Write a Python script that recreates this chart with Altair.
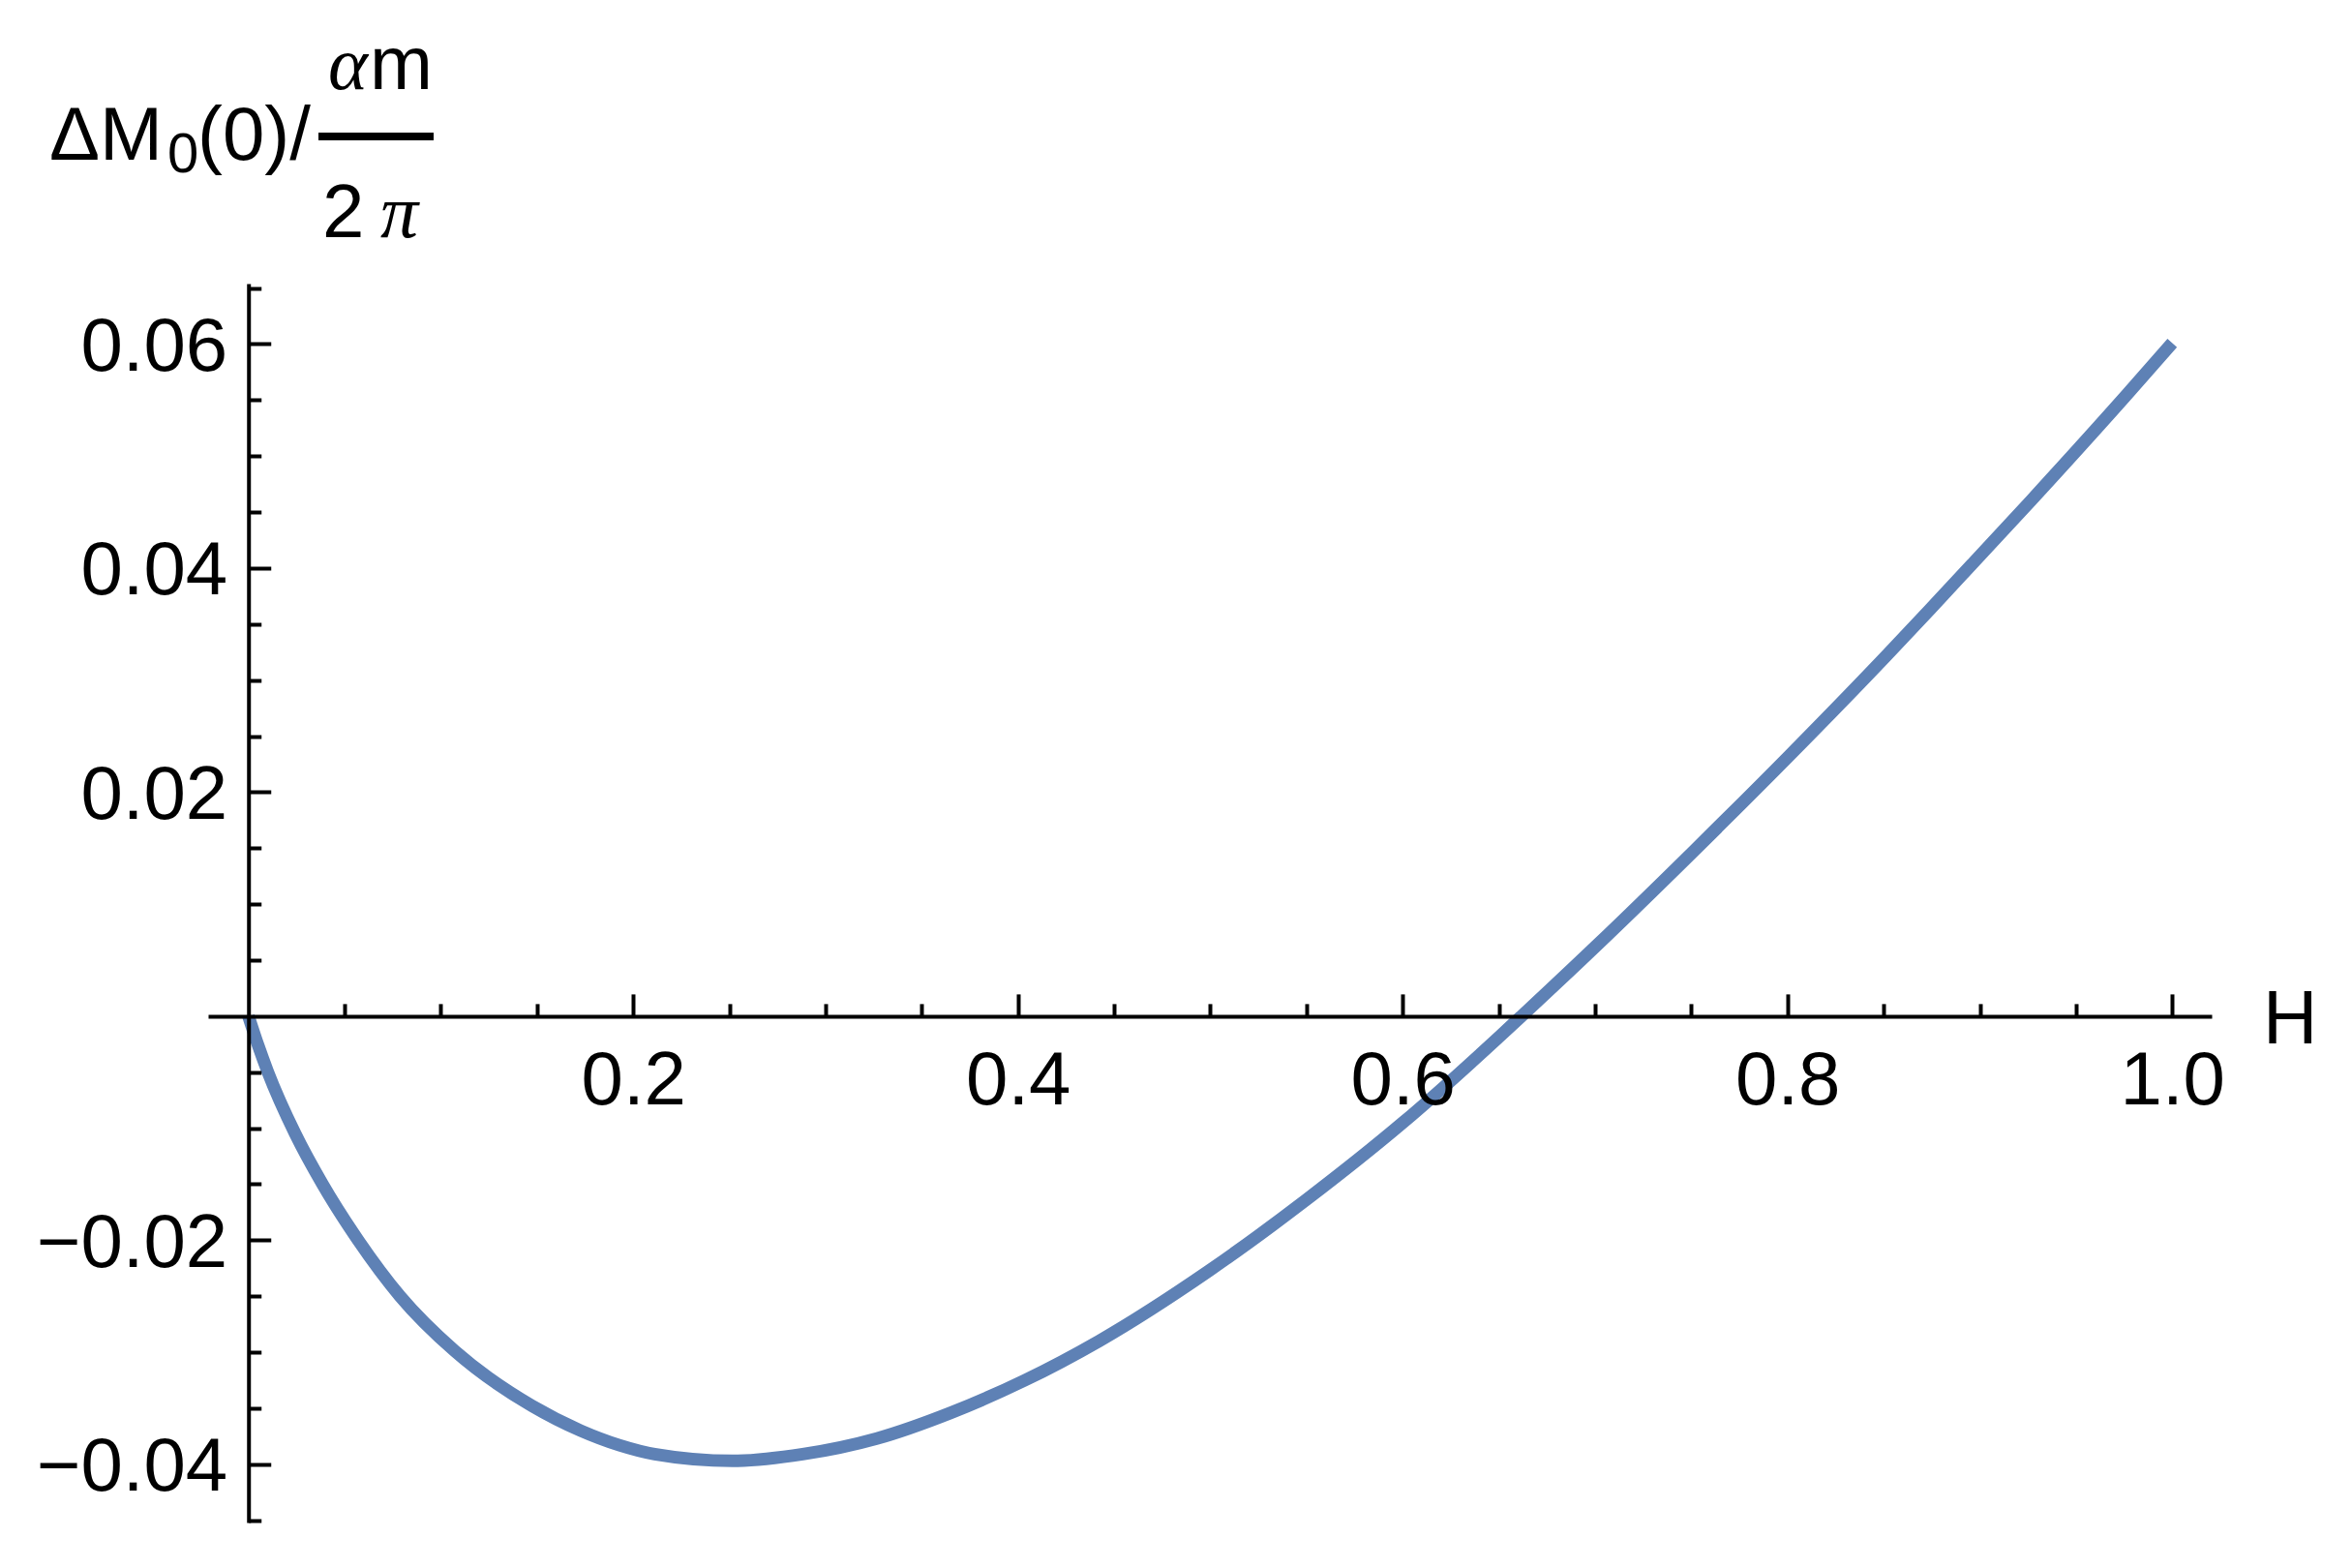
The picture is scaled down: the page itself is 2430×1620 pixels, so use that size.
import altair as alt
import pandas as pd

# ---- data ----
H_vals = [0.0, 0.005, 0.0101, 0.0243, 0.0385, 0.057, 0.0788, 0.1073, 0.1475, 0.1727,
          0.1928, 0.2111, 0.2516, 0.2881, 0.3266, 0.3651, 0.4036, 0.4421, 0.4995,
          0.5498, 0.6001, 0.6504, 0.6617, 0.7007, 0.751, 0.8012, 0.8515, 0.8767,
          0.927, 0.977, 1.0]
M_vals = [0.0, -0.0026, -0.005, -0.0105, -0.015, -0.020, -0.025, -0.0299, -0.0348, -0.0370,
          -0.0383, -0.0391, -0.0397, -0.0391, -0.0377, -0.0354, -0.0325, -0.0290, -0.0227,
          -0.0164, -0.0095, -0.0018, 0.0, 0.0063, 0.0147, 0.0233, 0.0322, 0.0368,
          0.0461, 0.0556, 0.0601]

x_major = [0.2, 0.4, 0.6, 0.8, 1.0]
x_minor = [0.05, 0.1, 0.15, 0.25, 0.3, 0.35, 0.45, 0.5, 0.55, 0.65, 0.7, 0.75,
           0.85, 0.9, 0.95]
y_major = [-0.04, -0.02, 0.02, 0.04, 0.06]
y_minor = [-0.045, -0.035, -0.03, -0.025, -0.015, -0.01, -0.005, 0.005, 0.01, 0.015,
           0.025, 0.03, 0.035, 0.045, 0.05, 0.055, 0.065]

x_domain = [-0.021, 1.0205]
y_domain = [-0.0452, 0.0654]

df = pd.DataFrame({"H": H_vals, "M": M_vals})

W, Hh = 2070, 1280
FONT = "Liberation Sans"
FS = 78
BLUE = "#5E81B5"

x0_px = (0 - x_domain[0]) / (x_domain[1] - x_domain[0]) * W   # pixel of H=0
y0_px = (y_domain[1] - 0) / (y_domain[1] - y_domain[0]) * Hh  # pixel of M=0 from top

xscale = alt.Scale(domain=x_domain, nice=False, zero=False)
yscale = alt.Scale(domain=y_domain, nice=False, zero=False)

x_tick_axis = alt.Axis(
    orient="top", offset=-y0_px, values=sorted(x_major + x_minor), labels=False,
    tickSize={"condition": {"test": "abs(datum.value*5 - round(datum.value*5)) < 0.001", "value": 23}, "value": 13},
    tickWidth=4, tickColor="black", domainWidth=4, domainColor="black",
    grid=False, title="", zindex=1,
)
y_tick_axis = alt.Axis(
    orient="right", offset=-(W - x0_px), values=sorted(y_major + y_minor), labels=False,
    tickSize={"condition": {"test": "abs(datum.value*50 - round(datum.value*50)) < 0.001", "value": 23}, "value": 13},
    tickWidth=4, tickColor="black", domainWidth=4, domainColor="black",
    grid=False, title="", zindex=1,
)
x_label_axis = alt.Axis(
    orient="bottom", offset=-(Hh - y0_px), values=x_major, format=".1f",
    ticks=False, tickSize=0, domain=False, grid=False, title="",
    labelFont=FONT, labelFontSize=FS, labelColor="black", labelPadding=29,
    labelBaseline="top", labelFlush=False, labelOverlap=False, labelLimit=500, zindex=1,
)
y_label_axis = alt.Axis(
    orient="left", offset=-x0_px, values=y_major, format=".2f",
    ticks=False, tickSize=0, domain=False, grid=False, title="",
    labelFont=FONT, labelFontSize=FS, labelColor="black", labelPadding=22,
    labelOffset=4, labelFlush=False, labelOverlap=False, labelLimit=500, zindex=1,
)

line = alt.Chart(df).mark_line(color=BLUE, strokeWidth=13, interpolate="monotone").encode(
    x=alt.X("H:Q", scale=xscale, axis=x_tick_axis),
    y=alt.Y("M:Q", scale=yscale, axis=y_tick_axis),
)
ghost = alt.Chart(df).mark_line(opacity=0).encode(
    x=alt.X("H:Q", scale=xscale, axis=x_label_axis),
    y=alt.Y("M:Q", scale=yscale, axis=y_label_axis),
)

one = alt.Data(values=[{"a": 1}])


def txt(s, x, y, size=FS, font=FONT, style="normal", align="left"):
    return alt.Chart(one).mark_text(
        text=s, font=font, fontSize=size, fontStyle=style, align=align,
        baseline="alphabetic", color="black",
    ).encode(x=alt.value(x), y=alt.value(y))


title_parts = [
    txt("ΔM", -164, -128),
    txt("0", -42, -115, size=58),
    txt("(0)/", -11, -128),
    txt("α", 124, -201, font="Liberation Serif", style="italic"),
    txt("m", 167, -201),
    txt("2", 118, -48),
    txt("π", 178, -48, font="Liberation Serif", style="italic"),
    txt("H", 2123, 785),
]
frac_bar = alt.Chart(one).mark_rule(color="black", strokeWidth=8).encode(
    x=alt.value(114), x2=alt.value(233), y=alt.value(-152)
)

chart = alt.layer(line, ghost, frac_bar, *title_parts).resolve_axis(
    x="independent", y="independent"
).properties(
    width=W, height=Hh,
    autosize=alt.AutoSizeParams(type="none"),
    padding={"left": 207, "top": 285, "right": 120, "bottom": 20},
).configure_view(strokeWidth=0)

chart.save("out.html", embed_options={"renderer": "svg", "actions": False})
